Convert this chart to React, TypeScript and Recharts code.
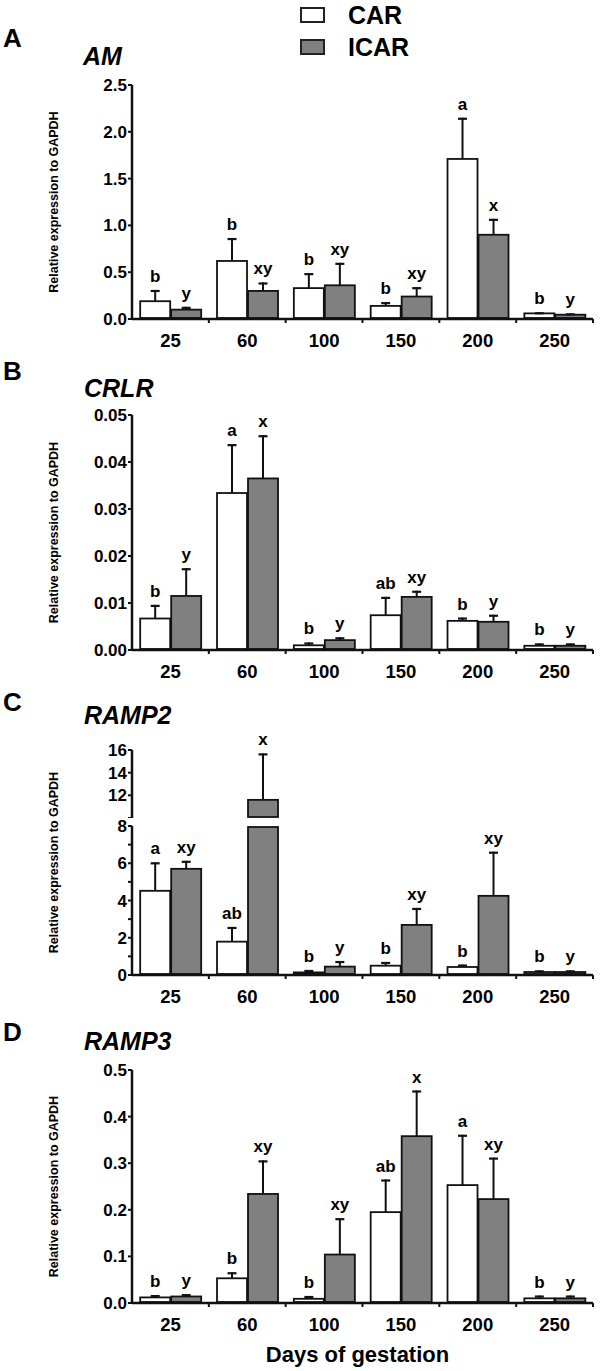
import React from "react";
import { BarChart, Bar, XAxis, YAxis, LabelList, Legend, Label } from "recharts";

const FONT = '"Liberation Sans", Arial, Helvetica, sans-serif';
const INK = "#111";

const days = ["25", "60", "100", "150", "200", "250"];

// A - AM
const amCar = [0.19, 0.62, 0.33, 0.14, 1.71, 0.06];
const amCarErr = [0.12, 0.245, 0.16, 0.04, 0.44, 0.012];
const amIcar = [0.1, 0.3, 0.36, 0.24, 0.9, 0.046];
const amIcarErr = [0.03, 0.09, 0.24, 0.1, 0.17, 0.014];
const amCarLetters = ["b", "b", "b", "b", "a", "b"];
const amIcarLetters = ["y", "xy", "xy", "xy", "x", "y"];

// B - CRLR
const crlrCar = [0.0067, 0.0334, 0.001, 0.0074, 0.0062, 0.0009];
const crlrCarErr = [0.0029, 0.0104, 0.0006, 0.0039, 0.0007, 0.0005];
const crlrIcar = [0.0115, 0.0365, 0.0021, 0.0113, 0.006, 0.0009];
const crlrIcarErr = [0.0059, 0.0092, 0.0006, 0.0013, 0.0015, 0.0005];
const crlrCarLetters = ["b", "a", "b", "ab", "b", "b"];
const crlrIcarLetters = ["y", "x", "y", "xy", "y", "y"];

// C - RAMP2 (broken axis)
const ramp2Car = [4.52, 1.79, 0.14, 0.5, 0.43, 0.16];
const ramp2CarErr = [1.53, 0.79, 0.13, 0.2, 0.13, 0.09];
const ramp2Icar = [5.7, 11.6, 0.45, 2.69, 4.25, 0.16];
const ramp2IcarErr = [0.43, 4.1, 0.3, 0.91, 2.37, 0.09];
const ramp2CarLetters = ["a", "ab", "b", "b", "b", "b"];
const ramp2IcarLetters = ["xy", "x", "y", "xy", "xy", "y"];

// D - RAMP3
const ramp3Car = [0.012, 0.053, 0.009, 0.195, 0.253, 0.01];
const ramp3CarErr = [0.005, 0.013, 0.006, 0.07, 0.108, 0.006];
const ramp3Icar = [0.014, 0.234, 0.104, 0.358, 0.223, 0.01];
const ramp3IcarErr = [0.005, 0.072, 0.078, 0.098, 0.089, 0.006];
const ramp3CarLetters = ["b", "b", "b", "ab", "a", "b"];
const ramp3IcarLetters = ["y", "xy", "xy", "x", "xy", "y"];

// tick values
const amTicks = [0, 0.5, 1, 1.5, 2, 2.5];
const crlrTicks = [0, 0.01, 0.02, 0.03, 0.04, 0.05];
const ramp2UpperTicks = [10, 12, 14, 16];
const ramp2LowerTicks = [0, 1, 2, 3, 4, 5, 6, 7, 8];
const ramp3Ticks = [0, 0.1, 0.2, 0.3, 0.4, 0.5];

const BREAK_LOW = 8;
const BREAK_HIGH = 10;

function makeRows(car: number[], carErr: number[], icar: number[], icarErr: number[], carL: string[], icarL: string[]) {
  return days.map((day, i) => ({
    day,
    car: car[i],
    carErr: carErr[i],
    icar: icar[i],
    icarErr: icarErr[i],
    carLetter: carL[i],
    icarLetter: icarL[i],
  }));
}

const amRows = makeRows(amCar, amCarErr, amIcar, amIcarErr, amCarLetters, amIcarLetters);
const crlrRows = makeRows(crlrCar, crlrCarErr, crlrIcar, crlrIcarErr, crlrCarLetters, crlrIcarLetters);
const ramp3Rows = makeRows(ramp3Car, ramp3CarErr, ramp3Icar, ramp3IcarErr, ramp3CarLetters, ramp3IcarLetters);

// lower part of the broken axis: bars above the break keep their body, error+letter go up
const ramp2LowerRows = days.map((day, i) => ({
  day,
  car: ramp2Car[i],
  carErr: ramp2Car[i] > BREAK_LOW ? null : ramp2CarErr[i],
  icar: ramp2Icar[i],
  icarErr: ramp2Icar[i] > BREAK_LOW ? null : ramp2IcarErr[i],
  carLetter: ramp2Car[i] > BREAK_LOW ? undefined : ramp2CarLetters[i],
  icarLetter: ramp2Icar[i] > BREAK_LOW ? undefined : ramp2IcarLetters[i],
}));
const ramp2UpperRows = days.map((day, i) => ({
  day,
  car: ramp2Car[i] > BREAK_LOW ? ramp2Car[i] : null,
  carErr: ramp2Car[i] > BREAK_LOW ? ramp2CarErr[i] : null,
  icar: ramp2Icar[i] > BREAK_LOW ? ramp2Icar[i] : null,
  icarErr: ramp2Icar[i] > BREAK_LOW ? ramp2IcarErr[i] : null,
  carLetter: ramp2Car[i] > BREAK_LOW ? ramp2CarLetters[i] : undefined,
  icarLetter: ramp2Icar[i] > BREAK_LOW ? ramp2IcarLetters[i] : undefined,
}));

function BarBox(props: any) {
  const { x, y, width, height, fill, background } = props;
  if (x == null || y == null || height == null || isNaN(y)) return null;
  let top = y;
  let bottom = y + height;
  if (background) {
    top = Math.max(top, background.y + 1);
    bottom = Math.min(bottom, background.y + background.height - 1);
  }
  if (bottom <= top) return null;
  return <rect x={x + 0.5} y={top} width={width - 1} height={bottom - top} fill={fill} stroke={INK} strokeWidth={1.8} />;
}

function ErrShape(props: any) {
  const { x, y, width, height, background } = props;
  if (x == null || y == null || !(height > 0.4)) return null;
  if (background && y + height < background.y) return null;
  const cx = x + width / 2;
  return (
    <g>
      <line x1={cx} x2={cx} y1={y + height} y2={y} stroke={INK} strokeWidth={2} />
      <line x1={cx - 4.5} x2={cx + 4.5} y1={y + 1} y2={y + 1} stroke={INK} strokeWidth={2.2} />
    </g>
  );
}

function XTick(props: any) {
  const { x, y, payload } = props;
  const half = payload && payload.offset ? payload.offset : 38.4;
  return (
    <g>
      <line x1={x + half} x2={x + half} y1={y} y2={y + 4} stroke={INK} strokeWidth={2} />
      <text x={x} y={y + 28} textAnchor="middle" fill="#000" fontSize={18.5} fontWeight={700} fontFamily={FONT}>
        {payload.value}
      </text>
    </g>
  );
}

const makeYTick = (fmt: (v: number) => string | null) => (props: any) => {
  const { x, y, payload } = props;
  const s = fmt(payload.value);
  if (s == null) return <g />;
  return (
    <text x={x} y={y} dy={6} textAnchor="end" fill="#000" fontSize={17} fontWeight={700} fontFamily={FONT}>
      {s}
    </text>
  );
};

const yLabel = (shift: number) => (props: any) => {
  const vb = props.viewBox || {};
  const cy = (vb.y ?? 0) + (vb.height ?? 0) / 2 + shift;
  return (
    <text
      x={54}
      y={cy}
      transform={`rotate(-90 54 ${cy})`}
      textAnchor="middle"
      dominantBaseline="central"
      fill="#000"
      fontSize={12.5}
      fontWeight={700}
      fontFamily={FONT}
    >
      Relative expression to GAPDH
    </text>
  );
};

const renderLegend = (props: any) => {
  const items = (props.payload || []).filter((p: any) => p.type !== "none");
  return (
    <div style={{ fontFamily: FONT }}>
      {items.map((p: any) => (
        <div key={p.value} style={{ display: "flex", alignItems: "center", height: 32 }}>
          <span style={{ width: 25, height: 16, background: p.color, border: "2px solid #222", boxSizing: "border-box" }} />
          <span style={{ marginLeft: 23, fontSize: 25, fontWeight: 700, color: "#000" }}>{p.value}</span>
        </div>
      ))}
    </div>
  );
};

const labelStyle = { fill: "#000", fontSize: 17, fontWeight: 700, fontFamily: FONT };

type PanelProps = {
  top: number;
  marginTop: number;
  plotH: number;
  rows: any[];
  domain: [number, number];
  ticks: number[];
  fmt: (v: number) => string | null;
  hideX?: boolean;
  clip?: boolean;
  yLabelShift?: number | null;
  legend?: boolean;
};

function Panel({ top, marginTop, plotH, rows, domain, ticks, fmt, hideX, clip, yLabelShift, legend }: PanelProps) {
  const xH = hideX ? 0 : 40;
  return (
    <div style={{ position: "absolute", left: 0, top }}>
      <BarChart
        width={600}
        height={marginTop + plotH + xH}
        data={rows}
        margin={{ top: marginTop, right: 7, bottom: 0, left: 0 }}
        barCategoryGap="10%"
        barGap={0}
      >
        <XAxis
          dataKey="day"
          hide={hideX}
          height={40}
          interval={0}
          tickLine={false}
          tickSize={0}
          tickMargin={0}
          axisLine={{ stroke: INK, strokeWidth: 2.5 }}
          tick={<XTick />}
        />
        <YAxis
          width={132}
          domain={domain}
          ticks={ticks}
          interval={0}
          allowDataOverflow={!!clip}
          tickSize={4}
          tickMargin={1}
          tickLine={{ stroke: INK, strokeWidth: 2 }}
          axisLine={{ stroke: INK, strokeWidth: 2.5 }}
          tick={makeYTick(fmt)}
        >
          {yLabelShift != null && <Label content={yLabel(yLabelShift)} />}
        </YAxis>
        {legend && (
          <Legend
            layout="vertical"
            align="center"
            verticalAlign="middle"
            content={renderLegend}
            wrapperStyle={{ position: "absolute", top: -1, left: 300, width: 200 }}
          />
        )}
        <Bar dataKey="car" name="CAR" stackId="car" fill="#ffffff" shape={<BarBox />} isAnimationActive={false} />
        <Bar dataKey="carErr" stackId="car" fill="none" legendType="none" shape={<ErrShape />} isAnimationActive={false}>
          <LabelList dataKey="carLetter" position="top" offset={8} {...labelStyle} />
        </Bar>
        <Bar dataKey="icar" name="ICAR" stackId="icar" fill="#808080" shape={<BarBox />} isAnimationActive={false} />
        <Bar dataKey="icarErr" stackId="icar" fill="none" legendType="none" shape={<ErrShape />} isAnimationActive={false}>
          <LabelList dataKey="icarLetter" position="top" offset={8} {...labelStyle} />
        </Bar>
      </BarChart>
    </div>
  );
}

const abs = (left: number, top: number, size: number, italic = false): React.CSSProperties => ({
  position: "absolute",
  left,
  top,
  fontSize: size,
  lineHeight: 1,
  fontWeight: 700,
  fontStyle: italic ? "italic" : "normal",
  fontFamily: FONT,
  color: "#000",
  whiteSpace: "nowrap",
});

export default function App() {
  return (
    <div style={{ position: "absolute", left: 0, top: 0, width: 600, height: 1371, background: "#fff", overflow: "hidden" }}>
      <Panel top={0} marginTop={85} plotH={234} rows={amRows} domain={[0, 2.5]} ticks={amTicks}
        fmt={(v) => v.toFixed(1)} yLabelShift={0} legend />
      <Panel top={385} marginTop={30} plotH={235} rows={crlrRows} domain={[0, 0.05]} ticks={crlrTicks}
        fmt={(v) => v.toFixed(2)} yLabelShift={0} />
      <Panel top={720} marginTop={30} plotH={68} rows={ramp2UpperRows} domain={[BREAK_HIGH, 16]} ticks={ramp2UpperTicks}
        fmt={(v) => (v === BREAK_HIGH ? null : String(v))} hideX clip yLabelShift={null} />
      <Panel top={716} marginTop={110} plotH={149} rows={ramp2LowerRows} domain={[0, BREAK_LOW]} ticks={ramp2LowerTicks}
        fmt={(v) => (v % 2 === 0 ? String(v) : null)} clip yLabelShift={-38} />
      <Panel top={1040} marginTop={30} plotH={233} rows={ramp3Rows} domain={[0, 0.5]} ticks={ramp3Ticks}
        fmt={(v) => v.toFixed(1)} yLabelShift={0} />

      <div style={abs(3, 25, 26)}>A</div>
      <div style={abs(83, 44, 25, true)}>AM</div>
      <div style={abs(3, 358, 26)}>B</div>
      <div style={abs(84, 376, 25, true)}>CRLR</div>
      <div style={abs(3, 689, 26)}>C</div>
      <div style={abs(84, 703, 25, true)}>RAMP2</div>
      <div style={abs(3, 1019, 26)}>D</div>
      <div style={abs(84, 1029, 25, true)}>RAMP3</div>
      <div style={{ ...abs(127, 1344, 22), width: 461, textAlign: "center" }}>Days of gestation</div>
    </div>
  );
}
